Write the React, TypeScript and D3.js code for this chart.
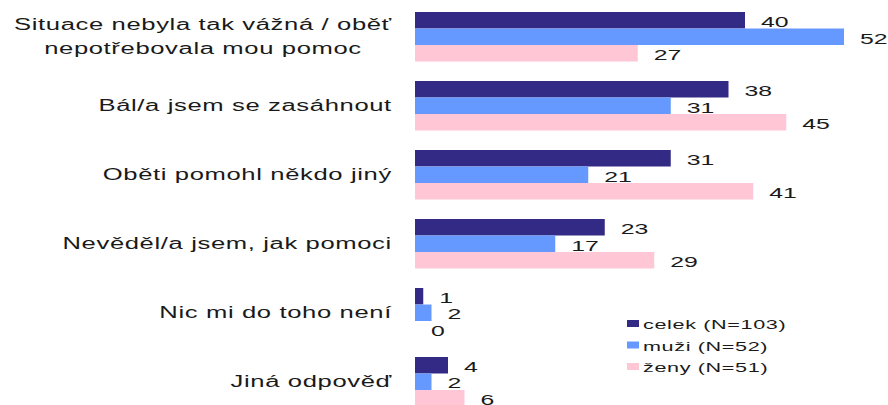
import React, { useEffect, useRef } from "react";
import * as d3 from "d3";

const categories: string[][] = [
  ["Situace nebyla tak vážná / oběť", "nepotřebovala mou pomoc"],
  ["Bál/a jsem se zasáhnout"],
  ["Oběti pomohl někdo jiný"],
  ["Nevěděl/a jsem, jak pomoci"],
  ["Nic mi do toho není"],
  ["Jiná odpověď"],
];
const seriesNames = ["celek (N=103)", "muži (N=52)", "ženy (N=51)"];
const celek = [40, 38, 31, 23, 1, 4];
const muzi = [52, 31, 21, 17, 2, 2];
const zeny = [27, 45, 41, 29, 0, 6];
const seriesValues = [celek, muzi, zeny];
const colors = ["#332a85", "#6699ff", "#ffc6d5"];

const W = 888;
const H = 405;
const FONT = "'Liberation Sans', Arial, sans-serif";
const SX = 1.6;

export default function App() {
  const ref = useRef<SVGSVGElement | null>(null);

  useEffect(() => {
    document.body.style.margin = "0";
    const svg = d3.select(ref.current);
    svg.selectAll("*").remove();

    const keys = categories.map((_, i) => String(i));
    const y = d3
      .scaleBand<string>()
      .domain(keys)
      .range([12, 406.5])
      .paddingInner(0.2826)
      .paddingOuter(0);
    const yInner = d3
      .scaleBand<number>()
      .domain([0, 1, 2])
      .range([0, y.bandwidth()])
      .padding(0);
    const x = d3.scaleLinear().domain([0, 52]).range([415, 844]);

    const g = svg.append("g");

    categories.forEach((cat, ci) => {
      const gy = y(String(ci))!;
      seriesValues.forEach((vals, si) => {
        const v = vals[ci];
        const by = gy + yInner(si)!;
        g.append("rect")
          .attr("x", x(0))
          .attr("y", by)
          .attr("width", x(v) - x(0))
          .attr("height", yInner.bandwidth())
          .attr("fill", colors[si]);
        g.append("text")
          .attr("transform", `translate(${x(v) + 16},${by + yInner.bandwidth() - 1.5}) scale(${SX},1)`)
          .attr("font-family", FONT)
          .attr("font-size", 15.5)
          .attr("fill", "#1a1a1a")
          .text(String(v));
      });

      const cy = gy + y.bandwidth() / 2;
      const lineH = 24;
      const n = cat.length;
      const texts = cat.map((line) =>
        g
          .append("text")
          .attr("font-family", FONT)
          .attr("font-size", 16)
          .attr("letter-spacing", 0.4)
          .attr("fill", "#1a1a1a")
          .attr("dominant-baseline", "central")
          .attr("text-anchor", "middle")
          .text(line)
      );
      const widths = texts.map((t) => (t.node() as SVGTextElement).getComputedTextLength() * SX);
      const maxW = d3.max(widths) || 0;
      const rightEdge = 392;
      const centerX = rightEdge - maxW / 2;
      texts.forEach((t, li) => {
        const ly = cy + (li - (n - 1) / 2) * lineH;
        t.attr("transform", `translate(${centerX},${ly}) scale(${SX},1)`);
      });
    });

    const leg = svg.append("g");
    seriesNames.forEach((name, si) => {
      const ly = 320 + si * 21.5;
      leg
        .append("rect")
        .attr("x", 627)
        .attr("y", ly)
        .attr("width", 12)
        .attr("height", 7)
        .attr("fill", colors[si]);
      leg
        .append("text")
        .attr("transform", `translate(643,${ly + 9}) scale(${SX},1)`)
        .attr("font-family", FONT)
        .attr("font-size", 13.5)
        .attr("letter-spacing", 0.4)
        .attr("fill", "#1a1a1a")
        .text(name);
    });
  }, []);

  return (
    <svg
      ref={ref}
      width={W}
      height={H}
      style={{ position: "absolute", left: 0, top: 0, background: "#fff" }}
    />
  );
}
